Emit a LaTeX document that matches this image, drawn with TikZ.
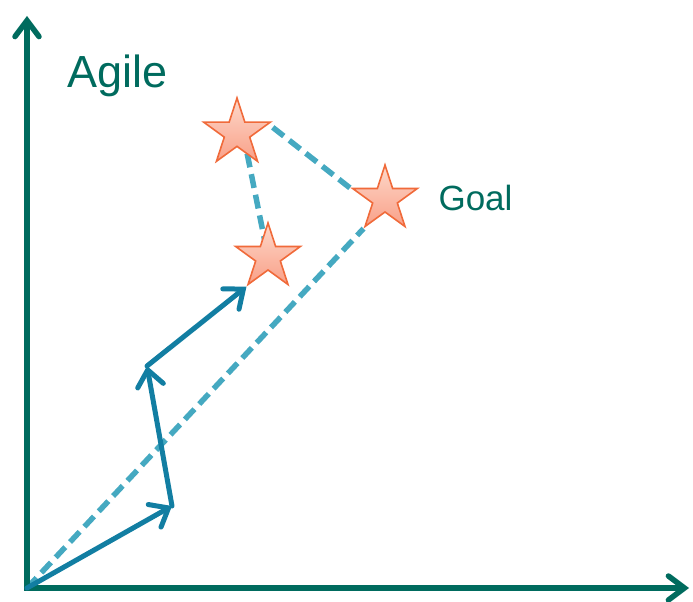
\documentclass[tikz,border=0pt]{standalone}
\usepackage{fontspec}
\setmainfont{Liberation Sans}
\usetikzlibrary{shapes.geometric,arrows.meta,backgrounds}
\definecolor{axisgreen}{HTML}{006B5E}
\definecolor{pathblue}{HTML}{127EA2}
\definecolor{dashblue}{HTML}{45A9C1}
\definecolor{starline}{HTML}{F06A3A}
\definecolor{startop}{HTML}{FDD8CA}
\definecolor{starbottom}{HTML}{F9A088}
\tikzset{
    axis/.style={line width=5.5pt,axisgreen,line join=miter,
        {Straight Barb[length=16pt,width=24pt,line cap=round]}-{Straight Barb[length=16pt,width=24pt,line cap=round]}},
    stepline/.style={line width=5pt,pathblue,line cap=round,
        -{Straight Barb[length=16pt,width=26pt,line cap=round]}},
    dashline/.style={line width=5.5pt,dashblue,dash pattern=on 14pt off 7pt},
    goalstar/.style={star,star points=5,star point ratio=2.618,draw=starline,
        line width=1.6pt,top color=startop,bottom color=starbottom,
        inner sep=0pt,minimum size=68pt},
    label/.style={text=axisgreen,anchor=base west}
}
\begin{document}
\begin{tikzpicture}[x=1pt,y=-1pt]
    \useasboundingbox (0,0) rectangle (693,602);
    % axes
    \coordinate (o) at (27,588);
    \coordinate (ytop) at (27,16);
    \coordinate (xend) at (689,588);
    \draw[axis] (ytop) -- (o) -- (xend);
    \node[label,font=\fontsize{45}{54}\selectfont] (agile) at (64,88) {Agile};
    % stars
    \node[goalstar,minimum size=70pt] (s1) at (237,133) {};
    \node[goalstar] (goal) at (385,199) {};
    \node[goalstar] (s3) at (268,257) {};
    \node[label,font=\fontsize{35}{42}\selectfont] (goaltext) at (435,210) {Goal};
    % dashed links
    \begin{scope}[on background layer]
        \draw[dashline] (o) -- (goal.outer point 3);
        \draw[dashline] ([yshift=-6pt]s1.outer point 5) -- ([shift={(2pt,-2pt)}]goal.outer point 2);
        \draw[dashline] ([xshift=6pt]s1.center) -- (s3.center);
    \end{scope}
    % steps
    \coordinate (p1) at (172,506);
    \coordinate (p2) at (147,366);
    \draw[stepline] (o) -- (p1);
    \draw[stepline] (p1) -- (p2);
    \draw[stepline] (p2) -- (s3.outer point 3);
\end{tikzpicture}
\end{document}
